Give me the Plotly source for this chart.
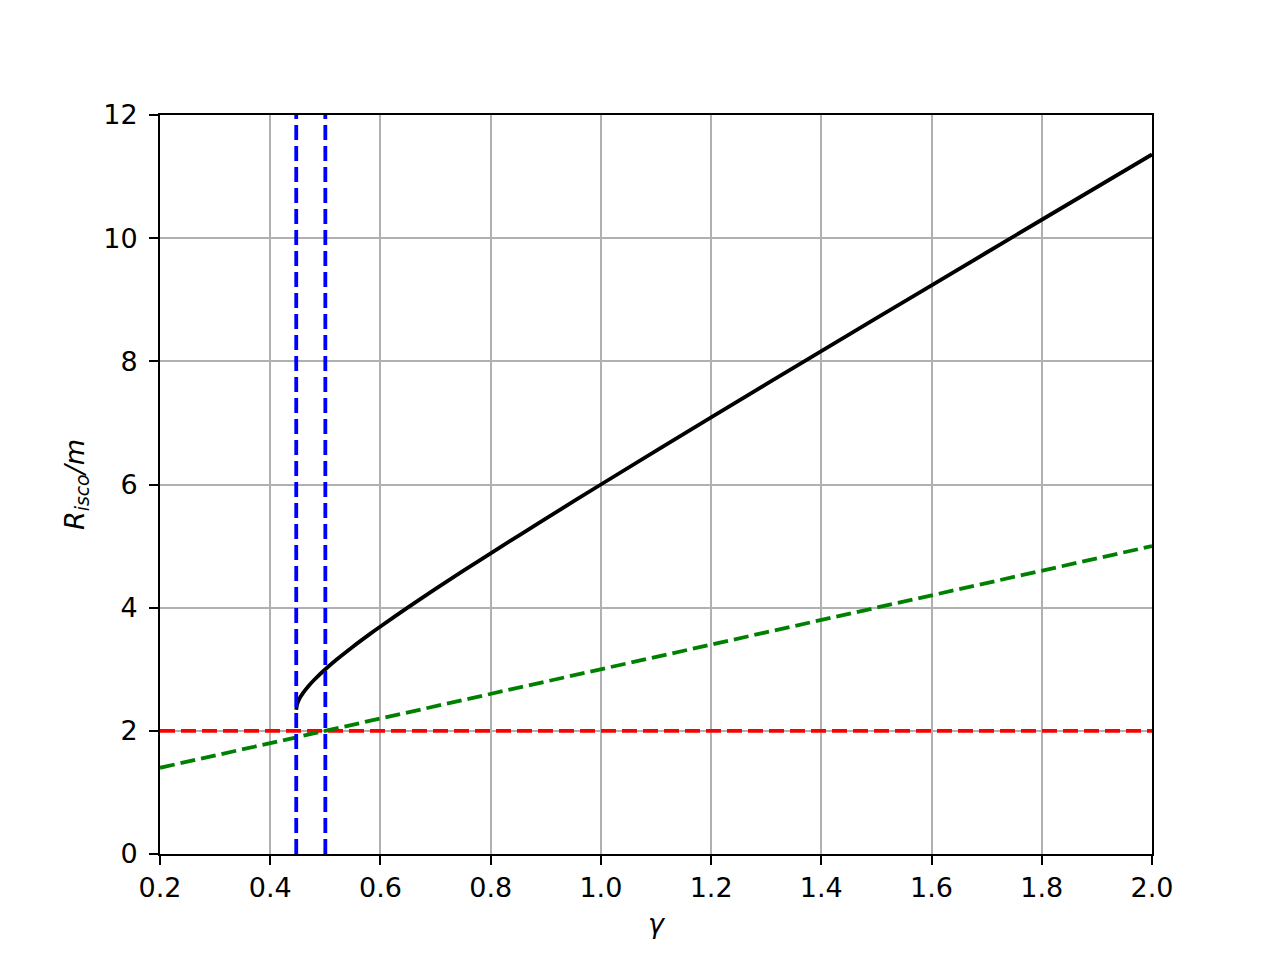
import plotly.graph_objects as go

# values
gamma = [0.4472, 0.449, 0.452, 0.455, 0.46, 0.47, 0.48, 0.5, 0.52, 0.55, 0.58, 0.6,
         0.65, 0.7, 0.75, 0.8, 0.9, 1.0, 1.2, 1.4, 1.6, 1.8, 2.0]
r_isco = [2.342, 2.437, 2.502, 2.552, 2.621, 2.733, 2.830, 3.0, 3.153, 3.366, 3.566,
          3.694, 4.005, 4.304, 4.596, 4.883, 5.446, 6.0, 7.09, 8.166, 9.235, 10.299,
          11.359]

gamma_ends = [0.2, 2.0]
green_vals = [1.4, 5.0]
red_level = 2.0
blue_x = [0.4472, 0.5]
y_span = [0, 12]

font = "DejaVu Sans"
dash = "15px,6px"
lw = 3.8

fig = go.Figure()

fig.add_trace(go.Scatter(x=gamma, y=r_isco, mode="lines", line_shape="spline",
                         line=dict(color="black", width=lw, smoothing=0.6),
                         showlegend=False))
fig.add_trace(go.Scatter(x=gamma_ends, y=[red_level, red_level], mode="lines",
                         line=dict(color="red", width=lw, dash=dash), showlegend=False))
fig.add_trace(go.Scatter(x=gamma_ends, y=green_vals, mode="lines",
                         line=dict(color="green", width=lw, dash=dash), showlegend=False))
for bx in blue_x:
    fig.add_trace(go.Scatter(x=[bx, bx], y=y_span, mode="lines",
                             line=dict(color="blue", width=lw, dash=dash), showlegend=False))

axis_common = dict(
    showline=True, linecolor="black", linewidth=2, mirror=True,
    ticks="outside", ticklen=9, tickwidth=2, tickcolor="black",
    showgrid=True, gridcolor="#b0b0b0", gridwidth=2,
    zeroline=False, tickfont=dict(family=font, size=27, color="black"),
)

fig.update_xaxes(range=[0.2, 2.0], tickvals=[0.2 + 0.2 * i for i in range(10)],
                 tickformat=".1f",
                 title=dict(text="<i>γ</i>", font=dict(family=font, size=27, color="black"),
                            standoff=12),
                 **axis_common)
fig.update_yaxes(range=[0, 12], tickvals=list(range(0, 13, 2)),
                 ticklabelstandoff=6,
                 title=dict(text="<i>R</i><sub><i>isco</i></sub><i>/m</i>",
                            font=dict(family=font, size=27, color="black"), standoff=11),
                 **axis_common)

# page body has an 8px margin, so pull the plot area back by that much
fig.update_layout(
    width=1280, height=960,
    margin=dict(l=152, r=136, t=107, b=114),
    plot_bgcolor="white", paper_bgcolor="white",
    font=dict(family=font, color="black"),
)

fig.write_html("out.html")
